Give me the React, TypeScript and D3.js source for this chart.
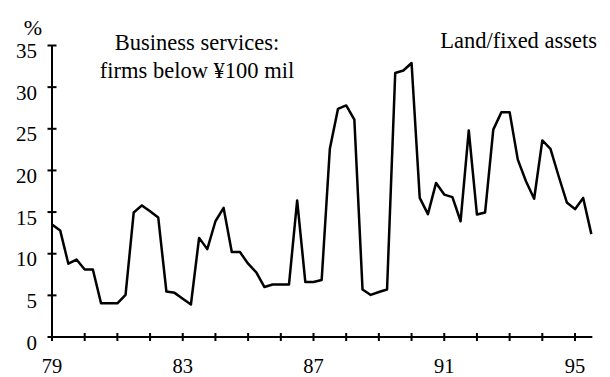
import React from "react";
import * as d3 from "d3";

// Quarterly data, 1979 Q1 .. 1995 Q3 (%)
const startYear = 79;
const values: number[] = [
  13.5, 12.8, 8.8, 9.3, 8.1, 8.1, 4.05, 4.05,
  4.05, 5.05, 14.95, 15.8, 15.1, 14.35, 5.45, 5.3,
  4.6, 3.9, 11.9, 10.55, 13.9, 15.5, 10.2, 10.2,
  8.8, 7.75, 6.0, 6.3, 6.3, 6.3, 16.4, 6.6,
  6.6, 6.85, 22.6, 27.4, 27.8, 26.1, 5.7, 5.05,
  5.4, 5.7, 31.7, 32.0, 32.9, 16.7, 14.75, 18.5,
  17.1, 16.8, 13.9, 24.8, 14.7, 14.95, 24.9, 27.0,
  27.0, 21.3, 18.7, 16.6, 23.6, 22.6, 19.3, 16.15,
  15.35, 16.7, 12.35,
];
const yTicks: number[] = [0, 5, 10, 15, 20, 25, 30, 35];
const xTickYears: number[] = d3.range(79, 96);
const xLabelYears: number[] = [79, 83, 87, 91, 95];
const titleLines: string[] = ["Business services:", "firms below ¥100 mil"];
const rightLabel = "Land/fixed assets";
const unitLabel = "%";

const FONT = "Liberation Serif, 'Times New Roman', DejaVu Serif, serif";

export default function App() {
  const W = 610;
  const H = 377;
  const x = d3.scaleLinear().domain([79, 95]).range([52, 575]);
  const y = d3.scaleLinear().domain([0, 35]).range([337, 45.5]);
  const pts = values.map((v, i) => [startYear + i / 4, v] as [number, number]);
  const line = d3
    .line<[number, number]>()
    .x((d) => x(d[0]))
    .y((d) => y(d[1]));
  const xEnd = x(startYear + (values.length - 1) / 4) + 1;
  const ts: React.CSSProperties = { fontFamily: FONT };

  return (
    <svg
      width={W}
      height={H}
      style={{ position: "absolute", left: 0, top: 0, background: "#fff", fontFamily: FONT }}
    >
      <rect width={W} height={H} fill="#fff" />
      {/* y axis */}
      <line x1={x(79)} x2={x(79)} y1={y(0)} y2={y(35)} stroke="#000" strokeWidth={2} />
      {yTicks.map((t) => (
        <g key={"y" + t}>
          <line x1={x(79) - 4.5} x2={x(79) + 4.5} y1={y(t)} y2={y(t)} stroke="#000" strokeWidth={2} />
          <text x={37} y={y(t) + 12.5} textAnchor="end" fontSize={21} fill="#000" style={ts}>
            {t}
          </text>
        </g>
      ))}
      <text x={33} y={35} textAnchor="middle" fontSize={22} fill="#000" style={ts}>
        {unitLabel}
      </text>
      {/* x axis */}
      <line x1={x(79)} x2={xEnd} y1={y(0)} y2={y(0)} stroke="#000" strokeWidth={2} />
      {xTickYears.map((t) => (
        <line key={"xt" + t} x1={x(t)} x2={x(t)} y1={y(0) - 4} y2={y(0) + 4} stroke="#000" strokeWidth={2} />
      ))}
      {xLabelYears.map((t) => (
        <text key={"xl" + t} x={x(t)} y={372.5} textAnchor="middle" fontSize={20.5} fill="#000" style={ts}>
          {t}
        </text>
      ))}
      {/* data line */}
      <path d={line(pts) || ""} fill="none" stroke="#000" strokeWidth={2.5} strokeLinejoin="round" />
      {/* annotations */}
      {titleLines.map((s, i) => (
        <text key={"t" + i} x={197} y={50 + i * 28} textAnchor="middle" fontSize={22.5} fill="#000" style={ts}>
          {s}
        </text>
      ))}
      <text x={597} y={48} textAnchor="end" fontSize={22.5} fill="#000" style={ts}>
        {rightLabel}
      </text>
    </svg>
  );
}
